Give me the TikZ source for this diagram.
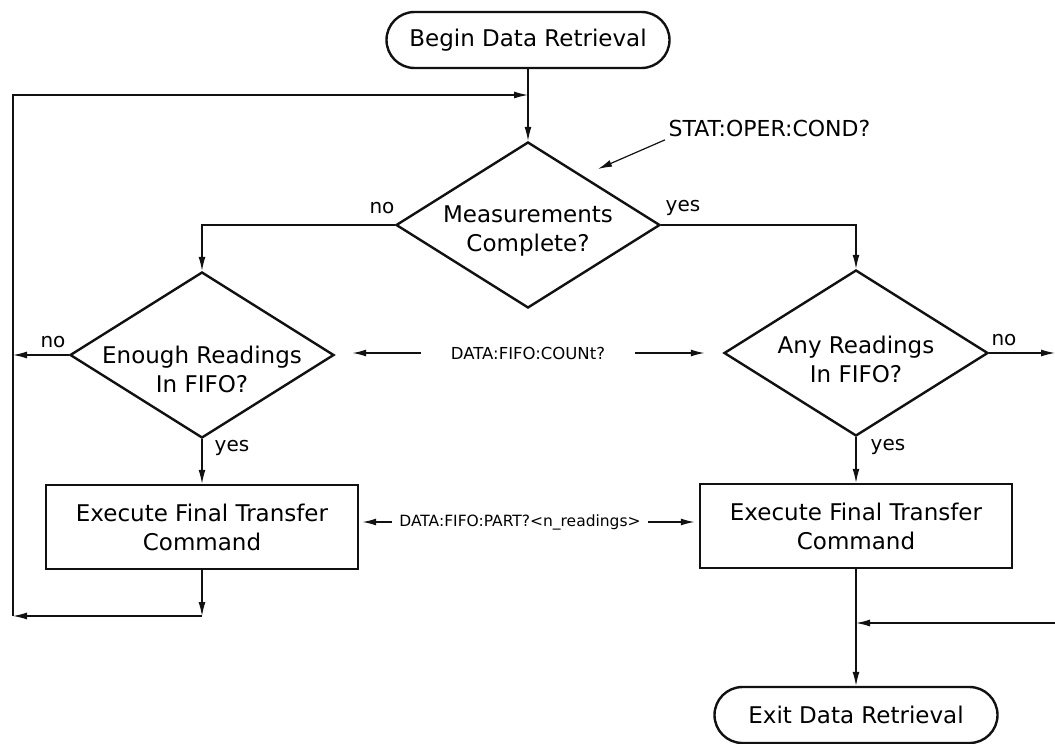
\documentclass[tikz,border=0pt]{standalone}
\usepackage{fontspec}
\setmainfont{DejaVu Sans}
\usepackage{tikz}
\usetikzlibrary{arrows.meta,shapes.geometric,calc}
\usepackage{xcolor}
\definecolor{ink}{HTML}{111111}
\tikzset{
  terminal/.style={draw=ink, rounded corners=28pt, line width=2.4pt, minimum width=283pt, minimum height=56pt, inner sep=0pt, font=\fontsize{23}{29}\selectfont},
  decision/.style={draw=ink, diamond, line width=2.4pt, minimum width=264pt, minimum height=166pt, inner sep=0pt},
  dtext/.style={align=center, yshift=-6pt, font=\fontsize{23}{29}\selectfont},
  process/.style={draw=ink, line width=2.4pt, minimum width=312pt, minimum height=84pt, align=center, font=\fontsize{23}{29}\selectfont},
  cmd/.style={font=\fontsize{15.5}{18}\selectfont, inner sep=3pt},
  tag/.style={font=\fontsize{20}{24}\selectfont, inner sep=0pt},
  arrow/.style={-{Latex[length=14pt, width=7pt]}, line width=1.2pt, draw=ink},
  cmdarrow/.style={arrow, line width=1.6pt}
}

\begin{document}
\begin{tikzpicture}[x=1pt, y=-1pt]
  \useasboundingbox (0,0) rectangle (1055,744);

  % shapes
  \node[terminal] (begin) at (528,40) {Begin Data Retrieval};
  \node[decision, label={[dtext]center:Measurements\\Complete?}] (meas) at (528,225) {};
  \node[decision, label={[dtext, yshift=-8pt]center:Enough Readings\\In FIFO?}] (enough) at (202,355) {};
  \node[decision, label={[dtext]center:Any Readings\\In FIFO?}] (any) at (856,353) {};
  \node[process] (procL) at (202,527) {Execute Final Transfer\\Command};
  \node[process] (procR) at (856,526) {Execute Final Transfer\\Command};
  \node[terminal] (exit) at (856,715) {Exit Data Retrieval};

  % commands
  \node[font=\fontsize{22}{26}\selectfont, anchor=west] (stat) at (665,128) {STAT:OPER:COND?};
  \node[cmd, font=\fontsize{16.5}{20}\selectfont] (count) at (528,353) {DATA:FIFO:COUNt?};
  \node[cmd] (part) at (520,522) {DATA:FIFO:PART?<n\_readings>};

  \coordinate (statTip) at (598,169);
  \coordinate (joinTop) at (528,95);
  \coordinate (loopR) at (202,616);
  \coordinate (loopL) at (13,616);
  \coordinate (noR) at (1055,353);
  \coordinate (backR) at (1055,623);
  \coordinate (joinR) at (856,623);

  % connectors
  \draw[arrow] (begin) -- (meas);
  \draw[arrow] (meas.west) -| (enough.north);
  \draw[arrow] (meas.east) -| (any.north);
  \draw[arrow] (enough.south) -- (procL.north);
  \draw[arrow] (any.south) -- (procR.north);
  \draw[arrow] (enough.west) -- (enough.west -| loopL);
  \draw[arrow] (any.east) -- (noR);
  \draw[arrow] (procL.south) -- (loopR);
  \draw[arrow] (loopR) -- (loopL);
  \draw[arrow] (loopL) |- (joinTop);
  \draw[arrow] (procR.south) -- (exit.north);
  \draw[arrow] (backR) -- (joinR);
  \draw[arrow] (stat.south west) -- (statTip);
  \draw[cmdarrow, shorten <=27pt, shorten >=17pt] (count.west) -- (count.west -| enough.east);
  \draw[cmdarrow, shorten <=27pt, shorten >=18pt] (count.east) -- (count.east -| any.west);
  \draw[cmdarrow, shorten <=4pt, shorten >=3pt] (part.west) -- (part.west -| procL.east);
  \draw[cmdarrow, shorten <=4pt, shorten >=4pt] (part.east) -- (part.east -| procR.west);

  % branch labels
  \node[tag] (noMeas) at (382,208) {no};
  \node[tag] (yesMeas) at (683,208) {yes};
  \node[tag] (noEnough) at (53,342) {no};
  \node[tag] (yesEnough) at (232,448) {yes};
  \node[tag] (noAny) at (1004,340) {no};
  \node[tag] (yesAny) at (888,447) {yes};
\end{tikzpicture}
\end{document}
